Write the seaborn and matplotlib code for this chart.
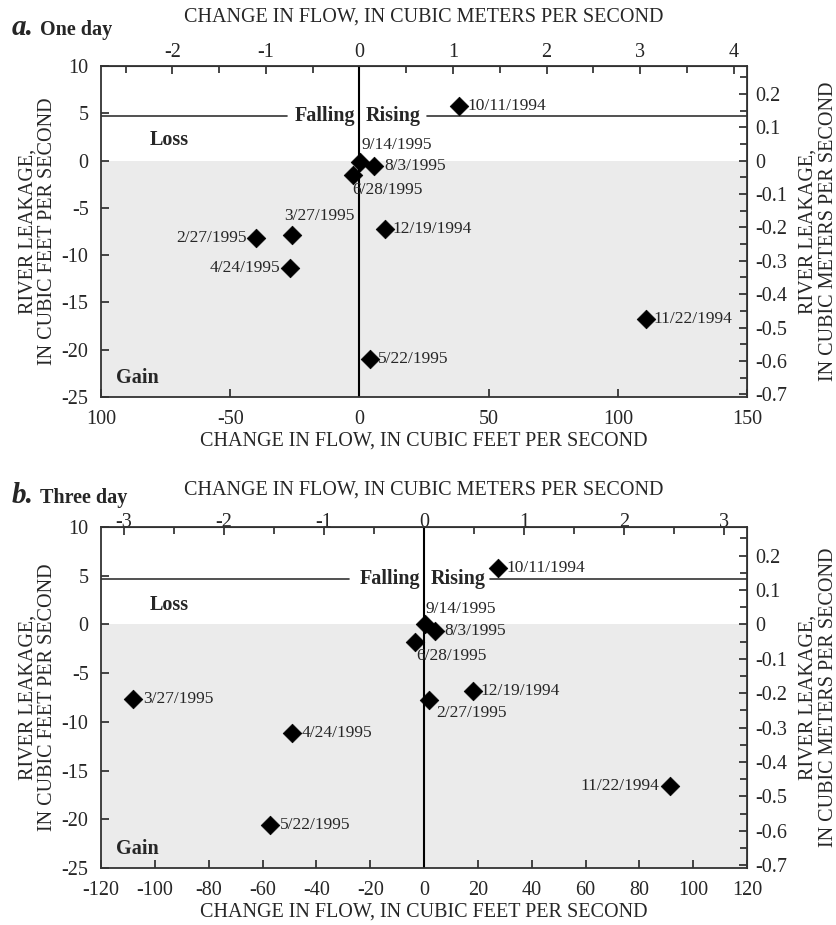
import numpy as np
import pandas as pd
import matplotlib
matplotlib.use("Agg")
import matplotlib.pyplot as plt
import seaborn as sns
from matplotlib.ticker import MultipleLocator, FixedLocator

sns.set_style("ticks")
plt.rcParams["font.family"] = ["Liberation Serif", "DejaVu Serif"]
plt.rcParams["axes.unicode_minus"] = False

# ---- data: change in flow (cfs) vs river leakage (cfs) ----
dates_a = ["10/11/1994", "9/14/1995", "8/3/1995", "6/28/1995", "3/27/1995",
           "2/27/1995", "4/24/1995", "12/19/1994", "5/22/1995", "11/22/1994"]
flow_a = [38.7, 0.4, 5.8, -2.3, -26.0, -40.0, -26.7, 10.0, 3.9, 111.0]
leak_a = [5.8, -0.1, -0.6, -1.5, -7.9, -8.2, -11.4, -7.2, -21.0, -16.8]

dates_b = ["10/11/1994", "9/14/1995", "8/3/1995", "6/28/1995", "3/27/1995",
           "4/24/1995", "5/22/1995", "12/19/1994", "2/27/1995", "11/22/1994"]
flow_b = [27.5, 0.4, 4.1, -3.3, -108.0, -49.0, -57.2, 18.3, 1.9, 91.4]
leak_b = [5.75, 0.1, -0.7, -1.75, -7.7, -11.1, -20.6, -6.8, -7.8, -16.6]

xticks_a = [-100, -50, 0, 50, 100, 150]
xticklabels_a = ["100", "-50", "0", "50", "100", "150"]
xticks_b = list(range(-120, 121, 20))
yticks = [-25, -20, -15, -10, -5, 0, 5, 10]
right_ticks = [-0.7, -0.6, -0.5, -0.4, -0.3, -0.2, -0.1, 0, 0.1, 0.2]

CFS_PER_CMS = 35.3147
# top scale as drawn in the original figure
TOP_CFS_PER_CMS_A = 36.2
TOP_CFS_PER_CMS_B = 37.2

LABEL_FS = 14.5
TICK_FS = 14.5
DATE_FS = 12.5
BOLD_FS = 14.5

# label placement (offset in points, alignment)
place_a = {
    "10/11/1994": ((6, 0), "left", "center"),
    "9/14/1995": ((1, 6), "left", "bottom"),
    "8/3/1995": ((7, 0), "left", "center"),
    "6/28/1995": ((-1, -5), "left", "top"),
    "3/27/1995": ((-6, 8), "left", "bottom"),
    "2/27/1995": ((-7, 0), "right", "center"),
    "4/24/1995": ((-7, 0), "right", "center"),
    "12/19/1994": ((5, 0), "left", "center"),
    "5/22/1995": ((6, 0), "left", "center"),
    "11/22/1994": ((5, 0), "left", "center"),
}
place_b = {
    "10/11/1994": ((6, 0), "left", "center"),
    "9/14/1995": ((0, 5), "left", "bottom"),
    "8/3/1995": ((7, 0), "left", "center"),
    "6/28/1995": ((1, -5), "left", "top"),
    "3/27/1995": ((7, 0), "left", "center"),
    "4/24/1995": ((7, 0), "left", "center"),
    "5/22/1995": ((7, 0), "left", "center"),
    "12/19/1994": ((5, 0), "left", "center"),
    "2/27/1995": ((5, -3), "left", "top"),
    "11/22/1994": ((-8, 0), "right", "center"),
}


def draw_panel(ax, dates, flow, leak, xlim, top_factor, place, fall_x, rise_x,
               line_left_end, line_right_start, loss_y, gain_y,
               top_pad, top_labelpad):
    df = pd.DataFrame({"date": dates, "flow": flow, "leak": leak})
    span = xlim[1] - xlim[0]
    ax.set_xlim(*xlim)
    ax.set_ylim(-25, 10)
    ax.axhspan(-25, 0, color="#ebebeb", zorder=0, lw=0)
    ax.axvline(0, color="black", lw=1.5, zorder=1)
    ax.plot([xlim[0], line_left_end], [4.7, 4.7], color="#333333", lw=1.2)
    ax.plot([line_right_start, xlim[1]], [4.7, 4.7], color="#333333", lw=1.2)
    ax.text(fall_x, 4.7, "Falling", ha="right", va="center",
            fontsize=BOLD_FS, fontweight="bold")
    ax.text(rise_x, 4.7, "Rising", ha="left", va="center",
            fontsize=BOLD_FS, fontweight="bold")
    ax.text(xlim[0] + 0.076 * span, loss_y, "Loss",
            fontsize=BOLD_FS, fontweight="bold", va="center")
    ax.text(xlim[0] + 0.023 * span, gain_y, "Gain",
            fontsize=BOLD_FS, fontweight="bold", va="center")

    sns.scatterplot(data=df, x="flow", y="leak", marker="D", color="black",
                    s=90, edgecolor="black", linewidth=0.5, zorder=3, ax=ax)
    for _, r in df.iterrows():
        off, ha, va = place[r["date"]]
        ax.annotate(r["date"], (r["flow"], r["leak"]), xytext=off,
                    textcoords="offset points", ha=ha, va=va, fontsize=DATE_FS)

    ax.set_xlabel("CHANGE IN FLOW, IN CUBIC FEET PER SECOND", fontsize=LABEL_FS,
                  labelpad=2)
    ax.set_ylabel("RIVER LEAKAGE,\nIN CUBIC FEET PER SECOND", fontsize=LABEL_FS,
                  labelpad=3, linespacing=1.1)
    ax.set_yticks(yticks)
    ax.tick_params(direction="in", labelsize=TICK_FS, length=6, width=1.2,
                   top=False, right=False)
    ax.tick_params(axis="y", pad=9)
    ax.tick_params(axis="x", pad=9)
    for sp in ax.spines.values():
        sp.set_linewidth(1.3)
        sp.set_color("#333333")

    top = ax.secondary_xaxis("top", functions=(lambda v: v / top_factor,
                                               lambda v: v * top_factor))
    top.xaxis.set_major_locator(MultipleLocator(1))
    top.xaxis.set_minor_locator(MultipleLocator(0.5))
    top.tick_params(which="major", direction="in", length=6, width=1.2,
                    labelsize=TICK_FS, pad=top_pad)
    top.tick_params(which="minor", direction="in", length=5, width=1.2)
    top.set_xlabel("CHANGE IN FLOW, IN CUBIC METERS PER SECOND",
                   fontsize=LABEL_FS, labelpad=top_labelpad)

    right = ax.secondary_yaxis("right", functions=(lambda v: v / CFS_PER_CMS,
                                                   lambda v: v * CFS_PER_CMS))
    right.yaxis.set_major_locator(FixedLocator(right_ticks))
    right.yaxis.set_minor_locator(MultipleLocator(0.05))
    right.yaxis.set_major_formatter(lambda v, pos: f"{round(v, 2) + 0.0:g}")
    right.tick_params(which="major", direction="in", length=6, width=1.2,
                      labelsize=TICK_FS, pad=6)
    right.tick_params(which="minor", direction="in", length=5, width=1.2)
    right.set_ylabel("RIVER LEAKAGE,\nIN CUBIC METERS PER SECOND",
                     fontsize=LABEL_FS, labelpad=8, linespacing=1.1)
    return ax


fig = plt.figure(figsize=(8.37, 9.25), dpi=100)
ax_a = fig.add_axes([0.1207, 0.5708, 0.7718, 0.3578])
ax_b = fig.add_axes([0.1207, 0.0616, 0.7718, 0.3686])

draw_panel(ax_a, dates_a, flow_a, leak_a, (-100, 150), TOP_CFS_PER_CMS_A,
           place_a, -1.5, 2.3, -28.2, 26, 2.2, -23.0, 3, 15)
ax_a.set_xticks(xticks_a)
ax_a.set_xticklabels(xticklabels_a)

draw_panel(ax_b, dates_b, flow_b, leak_b, (-120, 120), TOP_CFS_PER_CMS_B,
           place_b, -1.5, 2.6, -27.9, 24.5, 2.05, -23.0, -3.5, 13)
ax_b.set_xticks(xticks_b)

fig.text(0.014, 0.962, "a.", fontsize=21, fontweight="bold", style="italic")
fig.text(0.048, 0.962, "One day", fontsize=14.5, fontweight="bold")
fig.text(0.014, 0.456, "b.", fontsize=21, fontweight="bold", style="italic")
fig.text(0.048, 0.456, "Three day", fontsize=14.5, fontweight="bold")

plt.savefig("out.png", dpi=100)
